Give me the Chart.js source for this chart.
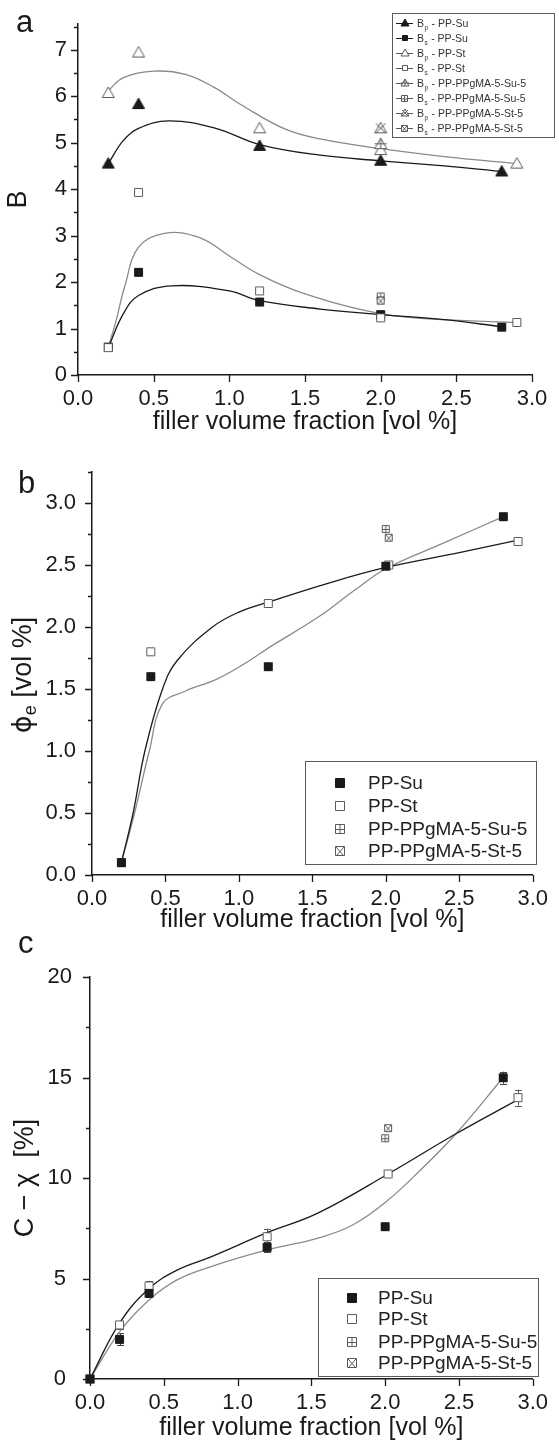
<!DOCTYPE html>
<html>
<head>
<meta charset="utf-8">
<script src="https://cdn.jsdelivr.net/npm/chart.js@4.4.1/dist/chart.umd.min.js"></script>
<style>
    html, body { margin: 0; padding: 0; background: #fff; width: 559px; height: 1444px; overflow: hidden; }
    canvas { position: absolute; left: 0; }
    #chartA { top: 0; }
    #chartB { top: 440px; }
    #chartC { top: 935px; }
</style>
</head>
<body>
<canvas id="chartA" width="559" height="440"></canvas>
<canvas id="chartB" width="559" height="495"></canvas>
<canvas id="chartC" width="559" height="511"></canvas>
<script>
// ---- panel a : B values ----
const aXSu = [0.2, 0.4, 1.2, 2.0, 2.8];
const aXSt = [0.2, 0.4, 1.2, 2.0, 2.9];
const bpSu = [4.55, 5.83, 4.93, 4.61, 4.38];
const bsSu = [0.60, 2.21, 1.57, 1.30, 1.03];
const bpSt = [6.07, 6.94, 5.31, 4.84, 4.55];
const bsSt = [0.59, 3.93, 1.81, 1.23, 1.13];
const aXGma = [2.0];
const bpSu5 = [4.97];
const bsSu5 = [1.69];
const bpSt5 = [5.31];
const bsSt5 = [1.60];
// fitted curves
const fitBpSuX = [0.2, 0.3, 0.4, 0.6, 0.9, 1.2, 1.6, 2.0, 2.42, 2.8];
const fitBpSu  = [4.55, 5.05, 5.31, 5.47, 5.32, 4.96, 4.73, 4.61, 4.50, 4.38];
const fitBpStX = [0.2, 0.3, 0.5, 0.71, 0.9, 1.08, 1.37, 1.6, 2.0, 2.42, 2.9];
const fitBpSt  = [6.12, 6.40, 6.54, 6.47, 6.19, 5.81, 5.29, 5.08, 4.87, 4.70, 4.55];
const fitBsSuX = [0.2, 0.3, 0.4, 0.62, 1.0, 1.2, 1.6, 2.0, 2.42, 2.8];
const fitBsSu  = [0.59, 1.32, 1.71, 1.92, 1.81, 1.60, 1.42, 1.30, 1.19, 1.04];
const fitBsStX = [0.2, 0.25, 0.31, 0.4, 0.57, 0.8, 1.01, 1.2, 1.48, 2.0, 2.42, 2.9];
const fitBsSt  = [0.59, 1.15, 1.92, 2.75, 3.05, 2.96, 2.54, 2.16, 1.77, 1.32, 1.19, 1.13];

// ---- panel b : phi_e ----
const bXSu = [0.2, 0.4, 1.2, 2.0, 2.8];
const bXSt = [0.2, 0.4, 1.2, 2.02, 2.9];
const phiSu = [0.10, 1.60, 1.68, 2.49, 2.89];
const phiSt = [0.10, 1.80, 2.19, 2.50, 2.69];
const phiSu5 = [{ x: 2.0, y: 2.79 }];
const phiSt5 = [{ x: 2.02, y: 2.72 }];
const fitPhiStX = [0.2, 0.28, 0.36, 0.48, 0.58, 0.82, 1.0, 1.2, 1.6, 2.0, 2.5, 2.9];
const fitPhiSt  = [0.10, 0.50, 1.00, 1.50, 1.73, 2.00, 2.12, 2.20, 2.35, 2.48, 2.60, 2.70];
const fitPhiSuX = [0.2, 0.29, 0.39, 0.48, 0.63, 0.85, 1.06, 1.2, 1.54, 1.78, 2.0, 2.38, 2.8];
const fitPhiSu  = [0.10, 0.50, 1.00, 1.38, 1.48, 1.58, 1.72, 1.83, 2.08, 2.29, 2.47, 2.67, 2.89];

// ---- panel c : C - chi ----
const cXSu = [0.0, 0.2, 0.4, 1.2, 2.0, 2.8];
const cXSt = [0.0, 0.2, 0.4, 1.2, 2.02, 2.9];
const chiSu = [0, 1.97, 4.26, 6.55, 7.58, 14.99];
const chiSt = [0, 2.69, 4.63, 7.08, 10.2, 14.0];
const chiSuErr = [0, 0.3, 0.2, 0.25, 0, 0.3];
const chiStErr = [0, 0.2, 0.25, 0.4, 0, 0.4];
const chiSu5 = [{ x: 2.0, y: 11.98 }];
const chiSt5 = [{ x: 2.02, y: 12.48 }];
const fitChiStX = [0, 0.2, 0.4, 0.59, 0.82, 1.2, 1.54, 2.02, 2.48, 2.9];
const fitChiSt  = [0, 2.78, 4.50, 5.42, 6.08, 7.28, 8.24, 10.2, 12.2, 13.9];
const fitChiSuX = [0, 0.2, 0.4, 0.59, 0.82, 1.2, 1.54, 1.78, 2.02, 2.24, 2.48, 2.8];
const fitChiSu  = [0, 2.35, 3.93, 4.93, 5.59, 6.42, 7.00, 7.66, 8.90, 10.4, 12.2, 15.0];

const FONT = '"Liberation Sans", Arial, sans-serif';
const INK = '#1a1a1a';
const GREY = '#5a5a5a';
const CURVE_GREY = '#8a8a8a';

const pts = (xs, ys) => xs.map((x, i) => ({ x, y: ys[i] }));

// small canvas markers (square / triangle, with optional + or x inside)
const makeMarker = (shape, size, stroke, fill, deco) => {
    const c = document.createElement('canvas');
    const s = size + 4;
    c.width = s; c.height = s;
    const g = c.getContext('2d');
    const m = s / 2, h = size / 2;
    g.lineWidth = 1;
    g.strokeStyle = stroke;
    g.fillStyle = fill;
    g.beginPath();
    if (shape === 'square') {
        g.rect(Math.round(m - h) + 0.5, Math.round(m - h) + 0.5, size - 1, size - 1);
    } else {
        g.moveTo(m, m - h);
        g.lineTo(m + h, m + h * 0.75);
        g.lineTo(m - h, m + h * 0.75);
        g.closePath();
    }
    g.fill();
    g.stroke();
    if (deco) {
        g.beginPath();
        const bot = shape === 'square' ? m + h : m + h * 0.75;
        if (deco === 'plus') {
            g.moveTo(m, m - h); g.lineTo(m, bot);
            g.moveTo(m - h, (m - h + bot) / 2 + 0.5); g.lineTo(m + h, (m - h + bot) / 2 + 0.5);
        } else {
            g.moveTo(m - h * 0.8, m - h * 0.8); g.lineTo(m + h * 0.8, bot);
            g.moveTo(m + h * 0.8, m - h * 0.8); g.lineTo(m - h * 0.8, bot);
        }
        g.stroke();
    }
    return c;
};

const triFilled = makeMarker('tri', 12, INK, INK);
const triOpen = makeMarker('tri', 12, GREY, '#fff');
const triPlus = makeMarker('tri', 12, GREY, '#fff', 'plus');
const triX = makeMarker('tri', 12, GREY, '#fff', 'x');
const sqFilled = makeMarker('square', 9, INK, INK);
const sqOpen = makeMarker('square', 9, GREY, '#fff');
const sqPlus = makeMarker('square', 8, GREY, '#fff', 'plus');
const sqX = makeMarker('square', 8, GREY, '#fff', 'x');

// legend-size markers
const lgTriFilled = makeMarker('tri', 8, INK, INK);
const lgTriOpen = makeMarker('tri', 8, GREY, '#fff');
const lgTriPlus = makeMarker('tri', 8, GREY, '#fff', 'plus');
const lgTriX = makeMarker('tri', 8, GREY, '#fff', 'x');
const lgSqFilled = makeMarker('square', 6, INK, INK);
const lgSqOpen = makeMarker('square', 6, GREY, '#fff');
const lgSqPlus = makeMarker('square', 7, GREY, '#fff', 'plus');
const lgSqX = makeMarker('square', 7, GREY, '#fff', 'x');
const bigSqFilled = makeMarker('square', 10, INK, INK);
const bigSqOpen = makeMarker('square', 10, GREY, '#fff');
const bigSqPlus = makeMarker('square', 10, GREY, '#fff', 'plus');
const bigSqX = makeMarker('square', 10, GREY, '#fff', 'x');

const markerSet = (data, style, order) => ({
    data, pointStyle: style, pointRadius: 4, showLine: false, clip: false, order: order || 0
});
const curve = (data, color) => ({
    data, showLine: true, pointRadius: 0, borderColor: color, borderWidth: 1.3,
    tension: 0.4, clip: false, order: 5
});

// draws major/minor tick marks outward from the axes
const tickMarks = {
    id: 'tickMarks',
    afterDraw(chart) {
        const { ctx, chartArea: a } = chart;
        const xs = chart.scales.x, ys = chart.scales.y;
        ctx.save();
        ctx.strokeStyle = INK;
        ctx.lineWidth = 1.3;
        ctx.beginPath();
        ys.ticks.forEach(t => {
            const py = Math.round(ys.getPixelForValue(t.value)) + 0.5;
            ctx.moveTo(a.left, py);
            ctx.lineTo(a.left - (t.label ? 7 : 4), py);
        });
        xs.ticks.forEach(t => {
            const px = Math.round(xs.getPixelForValue(t.value)) + 0.5;
            ctx.moveTo(px, a.bottom);
            ctx.lineTo(px, a.bottom + (t.label ? 7 : 4));
        });
        ctx.stroke();
        ctx.restore();
    }
};

const panelLetter = (letter, x, y) => ({
    id: 'letter' + letter,
    afterDraw(chart) {
        const ctx = chart.ctx;
        ctx.save();
        ctx.fillStyle = INK;
        ctx.font = '31px ' + FONT;
        ctx.textBaseline = 'alphabetic';
        ctx.fillText(letter, x, y);
        ctx.restore();
    }
});

// boxed legend with marker + label rows
const boxLegend = (id, box, mx, tx, rows) => ({
    id,
    afterDraw(chart) {
        const ctx = chart.ctx;
        ctx.save();
        ctx.strokeStyle = GREY;
        ctx.lineWidth = 1;
        ctx.strokeRect(box[0] + 0.5, box[1] + 0.5, box[2] - box[0], box[3] - box[1]);
        ctx.font = '19px ' + FONT;
        ctx.fillStyle = '#222';
        ctx.textBaseline = 'middle';
        rows.forEach(r => {
            ctx.drawImage(r.m, Math.round(mx - r.m.width / 2), Math.round(r.y - r.m.height / 2));
            ctx.fillText(r.text, tx, r.y + 1);
        });
        ctx.restore();
    }
});

const isMult = (v, step) => Math.abs(v / step - Math.round(v / step)) < 1e-6;

const makeScales = o => ({
    x: {
        type: 'linear', position: 'bottom', min: 0, max: 3,
        afterFit: s => { s.height = o.xh; },
        grid: { display: false, drawTicks: false },
        border: { display: true, color: INK, width: 1.5 },
        ticks: {
            stepSize: 0.5, includeBounds: false, autoSkip: false, maxRotation: 0,
            padding: 11, color: INK, font: { family: FONT, size: 22 },
            callback: v => v.toFixed(1)
        },
        title: {
            display: true, text: 'filler volume fraction [vol %]', color: INK,
            font: { family: FONT, size: 25, lineHeight: 1 },
            padding: { top: 0, bottom: o.xtp }
        }
    },
    y: {
        type: 'linear', position: 'left', min: 0, max: o.ymax,
        afterFit: s => { s.width = o.yw; },
        grid: { display: false, drawTicks: false },
        border: { display: true, color: INK, width: 1.5 },
        ticks: {
            stepSize: o.minor, includeBounds: false, autoSkip: false,
            padding: o.ypad, crossAlign: 'center', color: INK, font: { family: FONT, size: 22 },
            callback: v => isMult(v, o.major) ? o.fmt(v) : ''
        },
        title: {
            display: !!o.ytitle, text: o.ytitle || '', color: INK,
            font: { family: FONT, size: 27, lineHeight: 1 },
            padding: { top: o.ytp, bottom: 0 }
        }
    }
});

const baseOptions = (o) => ({
    responsive: false,
    animation: false,
    events: [],
    layout: { padding: { left: 0, right: o.pr, top: o.pt, bottom: 0 } },
    plugins: { legend: { display: false }, tooltip: { enabled: false } },
    scales: makeScales(o)
});

// ---------- panel a ----------
const legendA = {
    id: 'legendA',
    afterDraw(chart) {
        const ctx = chart.ctx;
        const rows = [
            { m: lgTriFilled, c: INK, sub: 'p', t: ' - PP-Su' },
            { m: lgSqFilled, c: INK, sub: 's', t: ' - PP-Su' },
            { m: lgTriOpen, c: GREY, sub: 'p', t: ' - PP-St' },
            { m: lgSqOpen, c: GREY, sub: 's', t: ' - PP-St' },
            { m: lgTriPlus, c: GREY, sub: 'p', t: ' - PP-PPgMA-5-Su-5' },
            { m: lgSqPlus, c: GREY, sub: 's', t: ' - PP-PPgMA-5-Su-5' },
            { m: lgTriX, c: GREY, sub: 'p', t: ' - PP-PPgMA-5-St-5' },
            { m: lgSqX, c: GREY, sub: 's', t: ' - PP-PPgMA-5-St-5' }
        ];
        ctx.save();
        ctx.strokeStyle = GREY;
        ctx.lineWidth = 1;
        ctx.strokeRect(392.5, 13.5, 162, 124);
        ctx.textBaseline = 'alphabetic';
        ctx.fillStyle = '#333';
        rows.forEach((r, i) => {
            const y = 23 + i * 15;
            ctx.strokeStyle = r.c;
            ctx.beginPath();
            ctx.moveTo(396, y + 0.5);
            ctx.lineTo(413, y + 0.5);
            ctx.stroke();
            ctx.drawImage(r.m, Math.round(404.5 - r.m.width / 2), Math.round(y - r.m.height / 2));
            ctx.font = '10.5px ' + FONT;
            ctx.fillText('B', 417, y + 4);
            const bw = ctx.measureText('B').width;
            ctx.font = '6.5px ' + FONT;
            ctx.fillText(r.sub, 417 + bw + 0.5, y + 6.5);
            const sw = ctx.measureText(r.sub).width;
            ctx.font = '10.5px ' + FONT;
            ctx.fillText(r.t, 417 + bw + sw + 1, y + 4);
        });
        ctx.restore();
    }
};

new Chart(document.getElementById('chartA'), {
    type: 'scatter',
    data: {
        datasets: [
            markerSet(pts(aXGma, bsSt5), sqX),
            markerSet(pts(aXGma, bsSu5), sqPlus),
            markerSet(pts(aXGma, bpSt5), triX),
            markerSet(pts(aXGma, bpSu5), triPlus),
            markerSet(pts(aXSt, bsSt), sqOpen),
            markerSet(pts(aXSu, bsSu), sqFilled),
            markerSet(pts(aXSt, bpSt), triOpen),
            markerSet(pts(aXSu, bpSu), triFilled),
            curve(pts(fitBpSuX, fitBpSu), INK),
            curve(pts(fitBsSuX, fitBsSu), INK),
            curve(pts(fitBpStX, fitBpSt), CURVE_GREY),
            curve(pts(fitBsStX, fitBsSt), CURVE_GREY)
        ]
    },
    options: baseOptions({
        pr: 27, pt: 13, xh: 65, yw: 78, ymax: 7.55, minor: 0.5, major: 1,
        ypad: 11, xtp: 5.5, ytp: 5.5, ytitle: 'B', fmt: v => String(Math.round(v))
    }),
    plugins: [tickMarks, legendA, panelLetter('a', 16, 32)]
});

// ---------- panel b ----------
const phiTitle = {
    id: 'phiTitle',
    afterDraw(chart) {
        const ctx = chart.ctx;
        ctx.save();
        ctx.translate(24, 235);
        ctx.rotate(-Math.PI / 2);
        ctx.fillStyle = INK;
        ctx.textBaseline = 'middle';
        ctx.font = '27px "DejaVu Sans", ' + FONT;
        const phi = '\u03d5';
        const w1 = ctx.measureText(phi).width;
        ctx.font = '27px ' + FONT;
        const rest = ' [vol %]';
        const w3 = ctx.measureText(rest).width;
        ctx.font = '18px ' + FONT;
        const w2 = ctx.measureText('e').width;
        let x = -(w1 + w2 + w3) / 2;
        ctx.font = '27px "DejaVu Sans", ' + FONT;
        ctx.fillText(phi, x, 0);
        x += w1;
        ctx.font = '18px ' + FONT;
        ctx.fillText('e', x, 7);
        x += w2;
        ctx.font = '27px ' + FONT;
        ctx.fillText(rest, x, 0);
        ctx.restore();
    }
};

new Chart(document.getElementById('chartB'), {
    type: 'scatter',
    data: {
        datasets: [
            markerSet(pts(bXSu, phiSu), sqFilled),
            markerSet(pts(bXSt, phiSt), sqOpen),
            markerSet(phiSt5, sqX),
            markerSet(phiSu5, sqPlus),
            curve(pts(fitPhiStX, fitPhiSt), INK),
            curve(pts(fitPhiSuX, fitPhiSu), CURVE_GREY)
        ]
    },
    options: baseOptions({
        pr: 22, pt: 32, xh: 60, yw: 92, ymax: 3.25, minor: 0.25, major: 0.5,
        ypad: 16, xtp: 2.5, ytp: 0, ytitle: '', fmt: v => v.toFixed(1)
    }),
    plugins: [tickMarks, phiTitle, panelLetter('b', 18, 53),
        boxLegend('legendB', [305, 321, 536, 424], 340, 368, [
            { m: bigSqFilled, y: 343, text: 'PP-Su' },
            { m: bigSqOpen, y: 366, text: 'PP-St' },
            { m: bigSqPlus, y: 389, text: 'PP-PPgMA-5-Su-5' },
            { m: bigSqX, y: 411, text: 'PP-PPgMA-5-St-5' }
        ])]
});

// ---------- panel c ----------
const errorBars = {
    id: 'errorBars',
    beforeDatasetsDraw(chart) {
        const { ctx } = chart;
        const xs = chart.scales.x, ys = chart.scales.y;
        const draw = (xv, yv, ev, color) => {
            ctx.strokeStyle = color;
            ctx.beginPath();
            xv.forEach((x, i) => {
                if (!ev[i]) return;
                const px = Math.round(xs.getPixelForValue(x)) + 0.5;
                const top = ys.getPixelForValue(yv[i] + ev[i]);
                const bot = ys.getPixelForValue(yv[i] - ev[i]);
                ctx.moveTo(px, top); ctx.lineTo(px, bot);
                ctx.moveTo(px - 3.5, Math.round(top) + 0.5); ctx.lineTo(px + 3.5, Math.round(top) + 0.5);
                ctx.moveTo(px - 3.5, Math.round(bot) + 0.5); ctx.lineTo(px + 3.5, Math.round(bot) + 0.5);
            });
            ctx.stroke();
        };
        ctx.save();
        ctx.lineWidth = 1;
        draw(cXSu, chiSu, chiSuErr, '#444');
        draw(cXSt, chiSt, chiStErr, GREY);
        ctx.restore();
    }
};

new Chart(document.getElementById('chartC'), {
    type: 'scatter',
    data: {
        datasets: [
            markerSet(pts(cXSu, chiSu), sqFilled),
            markerSet(pts(cXSt, chiSt), sqOpen),
            markerSet(chiSt5, sqX),
            markerSet(chiSu5, sqPlus),
            curve(pts(fitChiStX, fitChiSt), INK),
            curve(pts(fitChiSuX, fitChiSu), CURVE_GREY)
        ]
    },
    options: baseOptions({
        pr: 21, pt: 42, xh: 67, yw: 90, ymax: 20, minor: 2.5, major: 5,
        ypad: 18, xtp: 5.5, ytp: 12, ytitle: 'C \u2212 \u03c7  [%]', fmt: v => String(Math.round(v))
    }),
    plugins: [tickMarks, errorBars, panelLetter('c', 18, 18),
        boxLegend('legendC', [318, 343, 538, 441], 352, 378, [
            { m: bigSqFilled, y: 363, text: 'PP-Su' },
            { m: bigSqOpen, y: 384, text: 'PP-St' },
            { m: bigSqPlus, y: 407, text: 'PP-PPgMA-5-Su-5' },
            { m: bigSqX, y: 428, text: 'PP-PPgMA-5-St-5' }
        ])]
});
</script>
</body>
</html>
